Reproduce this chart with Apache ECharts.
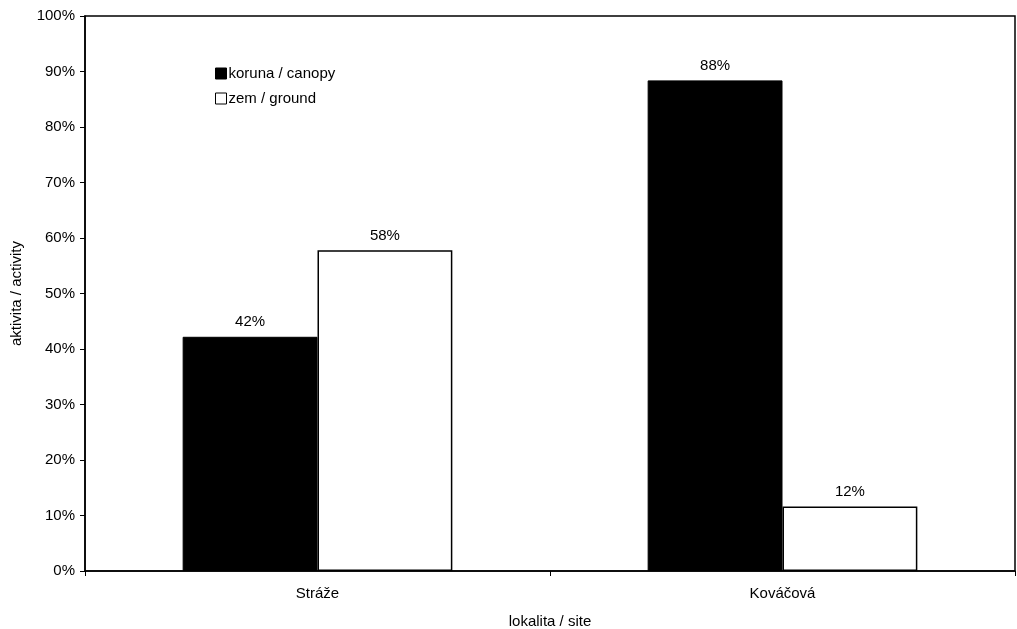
<!DOCTYPE html>
<html>
<head>
<meta charset="utf-8">
<script src="https://cdn.jsdelivr.net/npm/echarts@6/dist/echarts.min.js"></script>
<style>html,body{margin:0;padding:0;background:#fff}#c{width:1017px;height:629px}</style>
</head>
<body>
<div id="c"></div>
<script>
const categories = ['Stráže', 'Kováčová'];
const canopy = [42.2, 88.4];
const ground = [57.8, 11.6];
const yTicks = [0, 10, 20, 30, 40, 50, 60, 70, 80, 90, 100];

const chart = echarts.init(document.getElementById('c'));
const font = 'Liberation Sans, Arial, sans-serif';
const lbl = {
  show: true, position: 'top', distance: 7, color: '#000', fontSize: 15, fontFamily: font,
  formatter: p => Math.round(p.value) + '%'
};
chart.setOption({
  animation: false,
  backgroundColor: '#fff',
  textStyle: { fontFamily: font },
  grid: { left: 85, right: 2, top: 16, bottom: 58, containLabel: false, outerBoundsMode: 'none',
    show: true, borderColor: '#000', borderWidth: 1.5, backgroundColor: 'transparent' },
  legend: {
    orient: 'vertical', left: 210, top: 61, itemWidth: 11, itemHeight: 11, itemGap: 10,
    icon: 'rect',
    textStyle: { color: '#000', fontSize: 15, fontFamily: font, padding: [0, 0, 0, -3] },
    data: [
      { name: 'koruna / canopy', itemStyle: { color: '#000', borderColor: '#000', borderWidth: 1 } },
      { name: 'zem / ground', itemStyle: { color: '#fff', borderColor: '#000', borderWidth: 1 } }
    ]
  },
  xAxis: {
    type: 'category', data: categories,
    name: 'lokalita / site', nameLocation: 'middle', nameGap: 43,
    nameTextStyle: { color: '#000', fontSize: 15, fontFamily: font },
    axisLine: { lineStyle: { color: '#000', width: 1.5 } },
    axisTick: { show: true, length: 5, lineStyle: { color: '#000' } },
    axisLabel: { color: '#000', fontSize: 15, fontFamily: font, margin: 15 }
  },
  yAxis: {
    type: 'value', min: 0, max: 100, interval: 10,
    name: 'aktivita / activity', nameLocation: 'middle', nameGap: 61,
    nameTextStyle: { color: '#000', fontSize: 15, fontFamily: font },
    axisLine: { show: true, lineStyle: { color: '#000', width: 1.5 } },
    axisTick: { show: true, length: 5, lineStyle: { color: '#000' } },
    splitLine: { show: false },
    axisLabel: { color: '#000', fontSize: 15, fontFamily: font, margin: 10,
      formatter: v => yTicks.includes(v) ? v + '%' : '' }
  },
  series: [
    { name: 'koruna / canopy', type: 'bar', data: canopy, barGap: '0%', barCategoryGap: '42%',
      itemStyle: { color: '#000', borderColor: '#000', borderWidth: 1 }, label: lbl },
    { name: 'zem / ground', type: 'bar', data: ground,
      itemStyle: { color: '#fff', borderColor: '#000', borderWidth: 1.5 }, label: lbl }
  ]
});
</script>
</body>
</html>
